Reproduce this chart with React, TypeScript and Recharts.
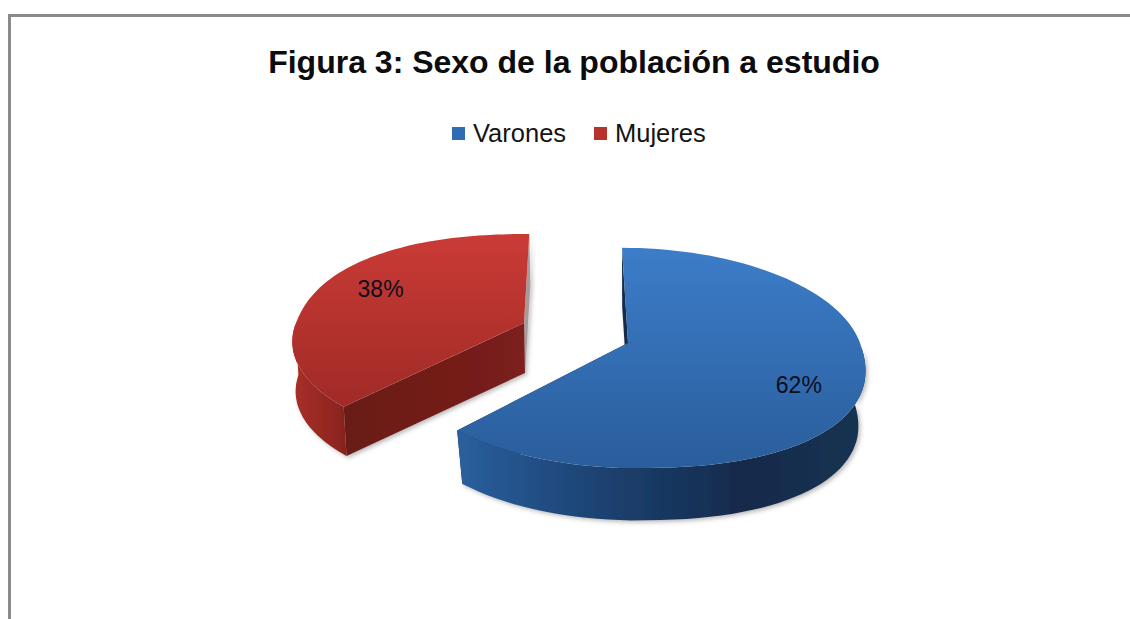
import React from 'react';
import { PieChart, Pie, Legend } from 'recharts';

const categories = ['Varones', 'Mujeres'];
const shares = [62, 38];
const sliceFills = ['#2f6cb3', '#b8322d'];
const chartTitle = 'Figura 3: Sexo de la población a estudio';

const data = categories.map((name, i) => ({ name, value: shares[i], fill: sliceFills[i] }));

// tilt and explode settings per slice, used to lay the flat pie down in perspective.
// fullX/fullY pick the quadrant whose rim bulges out, by the exponent bulge
const SLICE_VIEW: Record<string, any> = {
  Varones: {
    dx: 0, dy: 0, sx: 1, sy: 0.466, k: 0.136, lean: 0.063,
    fullX: 1, fullY: 1, bulge: 0.87,
    wallScale: 0.97, wallDx: 0, wallDy: 56,
    top: 'url(#blueTop)', curve: 'url(#blueCurve)', edgeA: '#13294a', edgeB: '#13294a',
    labelDx: -2, labelDy: 6,
  },
  Mujeres: {
    dx: -104, dy: -20, sx: 0.983, sy: 0.441, k: 0.15, lean: -0.06,
    fullX: -1, fullY: -1, bulge: 0.88,
    wallScale: 0.99, wallDx: 1, wallDy: 50,
    top: 'url(#redTop)', curve: 'url(#redCurve)', edgeA: 'url(#redFront)', edgeB: '#a89a98',
    labelDx: 8, labelDy: -4,
  },
};

// angle is recharts' polar angle in degrees, r runs 0..1 from the centre to the rim
const project = (view: any, radius: number, angle: number, r = 1) => {
  const a = (angle * Math.PI) / 180;
  const c = Math.cos(a);
  const s = -Math.sin(a);
  const p = c * view.fullX > 0 && s * view.fullY > 0 ? view.bulge : 1;
  const X = Math.sign(c) * Math.abs(c) ** p * r;
  const Y = Math.sign(s) * Math.abs(s) ** p * r;
  const d = 1 - view.k * Y;
  const y = (radius * view.sy * Y) / d;
  const x = (radius * view.sx * X) / d + view.lean * y;
  return { x, y };
};

const toPath = (pts: { x: number; y: number }[]) =>
  pts.map((p, i) => `${i === 0 ? 'M' : 'L'}${p.x.toFixed(1)},${p.y.toFixed(1)}`).join(' ') + ' Z';

const Slice3D = (props: any) => {
  const { cx, cy, outerRadius, startAngle, endAngle, name } = props;
  const view = SLICE_VIEW[name];
  const ox = cx + view.dx;
  const oy = cy + view.dy;
  const down = (p: { x: number; y: number }) => ({
    x: p.x * view.wallScale + view.wallDx,
    y: p.y * view.wallScale + view.wallDy,
  });

  const steps = 90;
  const rim = [];
  for (let i = 0; i <= steps; i++) {
    rim.push(project(view, outerRadius, startAngle + ((endAngle - startAngle) * i) / steps));
  }
  const apex = { x: 0, y: 0 };
  const first = rim[0];
  const last = rim[rim.length - 1];
  // only the near half of the rim shows a wall
  const nearRim = rim.filter((p) => p.y > 0);

  return (
    <g transform={`translate(${ox},${oy})`}>
      <g filter="url(#wallShadow)">
        <path d={toPath([apex, last, down(last), down(apex)])} fill={view.edgeB} />
        <path d={toPath([apex, first, down(first), down(apex)])} fill={view.edgeA} />
        <path d={toPath([...nearRim, ...nearRim.map(down).reverse()])} fill={view.curve} />
      </g>
      <path d={toPath([apex, ...rim])} fill={view.top} />
    </g>
  );
};

const SliceLabel = (props: any) => {
  const { cx, cy, outerRadius, midAngle, name, value } = props;
  const view = SLICE_VIEW[name];
  const p = project(view, outerRadius, midAngle, 0.75);
  return (
    <text
      x={cx + view.dx + p.x + view.labelDx}
      y={cy + view.dy + p.y + view.labelDy}
      textAnchor="middle"
      dominantBaseline="central"
      fontSize={23}
      fontFamily="Liberation Sans"
      fill="#0b0f1c"
    >
      {value}%
    </text>
  );
};

const KeyRow = ({ payload }: any) => (
  <div style={{ display: 'flex', alignItems: 'center', paddingLeft: 452, fontFamily: 'Liberation Sans', fontSize: 25.5, color: '#141414', lineHeight: '30px' }}>
    {(payload || []).map((item: any, i: number) => (
      <span key={item.value} style={{ display: 'flex', alignItems: 'center', marginRight: 26, width: i === 0 ? 116 : undefined }}>
        <span style={{ display: 'inline-block', width: 13, height: 13, marginRight: 8, background: item.color }} />
        {item.value}
      </span>
    ))}
  </div>
);

const App = () => (
  <div style={{ position: 'absolute', left: 0, top: 0, width: 1130, height: 619, overflow: 'hidden', background: '#fff' }}>
    <div style={{ position: 'absolute', left: 8, top: 14, right: -4, bottom: -4, borderLeft: '3px solid #8b8b8b', borderTop: '3px solid #8b8b8b' }} />
    <PieChart width={1130} height={619} margin={{ top: 0, right: 0, bottom: 0, left: 0 }}>
      <defs>
        <linearGradient id="blueTop" x1="0" y1="0" x2="0" y2="1">
          <stop offset="0%" stopColor="#3c7dc9" />
          <stop offset="100%" stopColor="#2a5d9b" />
        </linearGradient>
        <linearGradient id="blueCurve" x1="0" y1="0" x2="1" y2="0">
          <stop offset="0%" stopColor="#2a5f9e" />
          <stop offset="30%" stopColor="#1e4677" />
          <stop offset="70%" stopColor="#132a4b" />
          <stop offset="100%" stopColor="#1a3352" />
        </linearGradient>
        <linearGradient id="redTop" x1="0" y1="0" x2="0" y2="1">
          <stop offset="0%" stopColor="#ca3b36" />
          <stop offset="100%" stopColor="#a02a26" />
        </linearGradient>
        <linearGradient id="redCurve" x1="0" y1="0" x2="1" y2="0">
          <stop offset="0%" stopColor="#a82f29" />
          <stop offset="100%" stopColor="#88231e" />
        </linearGradient>
        <linearGradient id="redFront" x1="0" y1="0" x2="1" y2="0">
          <stop offset="0%" stopColor="#691a15" />
          <stop offset="100%" stopColor="#7b201b" />
        </linearGradient>
        <filter id="wallShadow" x="-10%" y="-10%" width="120%" height="120%">
          <feDropShadow dx="2" dy="2" stdDeviation="2" floodColor="#555" floodOpacity="0.4" />
        </filter>
      </defs>
      <text x={574} y={73} textAnchor="middle" fontSize={32} fontWeight="bold" fontFamily="Liberation Sans" fill="#0c0c0c">
        {chartTitle}
      </text>
      <Legend verticalAlign="top" itemSorter={null} wrapperStyle={{ left: 0, top: 118, width: 1130 }} content={<KeyRow />} />
      <Pie
        data={data}
        dataKey="value"
        nameKey="name"
        cx={628}
        cy={313}
        outerRadius={232}
        startAngle={90}
        endAngle={-270}
        stroke="none"
        shape={Slice3D}
        label={SliceLabel}
        labelLine={false}
        isAnimationActive={false}
      />
    </PieChart>
  </div>
);

export default App;
